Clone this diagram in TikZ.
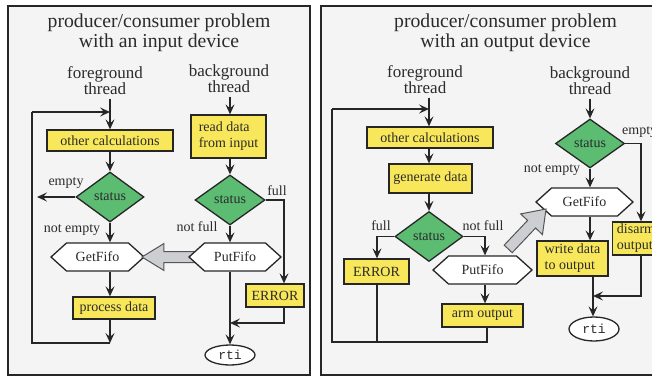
\documentclass[tikz,border=0pt]{standalone}
\usepackage{fontspec}
\setmainfont{Liberation Serif}
\setmonofont{Liberation Mono}
\usetikzlibrary{shapes.geometric,shapes.symbols,arrows.meta,calc}
\definecolor{linec}{RGB}{38,38,38}
\definecolor{txt}{RGB}{43,43,43}
\definecolor{panelbg}{RGB}{244,244,244}
\definecolor{grn}{RGB}{91,188,114}
\definecolor{yel}{RGB}{248,231,90}
\definecolor{fatfill}{RGB}{205,206,209}
\definecolor{fatline}{RGB}{85,85,85}
\begin{document}
\begin{tikzpicture}[x=1pt,y=-1pt,
 every node/.style={text=txt},
 conn/.style={draw=linec, line width=1.3pt, -{Stealth[length=10pt,width=9pt,inset=4pt]}},
 plain/.style={draw=linec, line width=1.3pt},
 ybox/.style={draw=linec, fill=yel, line width=1.3pt, inner sep=0pt, font=\fontsize{14}{16}\selectfont},
 dia/.style={diamond, draw=linec, fill=grn, line width=1.3pt, inner sep=0pt, font=\fontsize{14}{16}\selectfont},
 hexa/.style={signal, signal to=east and west, signal pointer angle=84, draw=linec, fill=white, line width=1.3pt, inner sep=0pt, font=\fontsize{14}{16}\selectfont},
 ov/.style={ellipse, draw=linec, fill=white, line width=1.3pt, inner sep=0pt, font=\ttfamily\fontsize{13}{15}\selectfont},
 fat/.style={draw=fatline, fill=fatfill, line width=1pt, line join=miter},
 panel/.style={draw=linec, fill=panelbg, line width=1.5pt},
 ttl/.style={align=center, font=\fontsize{19.7}{20}\selectfont},
 thr/.style={align=center, font=\fontsize{17}{16}\selectfont},
 lbl/.style={font=\fontsize{14}{16}\selectfont, inner sep=0pt}]
\useasboundingbox (0,0) rectangle (652,377);
\clip (0,0) rectangle (652,377);
\fill[white] (0,0) rectangle (652,377);
\path[panel] (8,6) rectangle (310,375);
\path[panel] (321,6) rectangle (680,375);

% ---------- left panel ----------
\node[ttl] (t1) at (159,33) {producer/consumer problem\\with an input device};
\node[thr] (fg1) at (105,81) {foreground\\thread};
\node[thr] (bg1) at (229,79) {background\\thread};
\node[ybox, minimum width=126pt, minimum height=21pt] (oc1) at (110,140.5) {other calculations};
\node[dia, minimum width=68pt, minimum height=50pt] (st1) at (110,197) {status};
\node[hexa, minimum width=93pt, minimum height=28pt] (gf1) at (97.5,257) {GetFifo};
\begin{scope}[shift={($(gf1.east)+(-3,0)$)}]
\filldraw[fat] (0,0) -- (22,-13.5) -- (22,-5.5) -- (55,-5.5) -- (55,5.5) -- (22,5.5) -- (22,13.5) -- cycle;
\end{scope}
\node[hexa, minimum width=92pt, minimum height=28pt] (pf1) at (235,257) {PutFifo};
\node[ybox, minimum width=82pt, minimum height=22pt] (pd1) at (114,308) {process data};
\node[ybox, minimum width=75pt, minimum height=43pt, align=left] (rd1) at (228.5,136.5) {read data\\from input};
\node[dia, minimum width=70pt, minimum height=50pt] (st2) at (230,200) {status};
\node[ybox, minimum width=58pt, minimum height=23pt] (er1) at (275,295.5) {ERROR};
\node[ov, minimum width=50pt, minimum height=20pt] (rt1) at (230,355) {rti};

\node[lbl] (le1) at (66,183) {empty};
\node[lbl] (lne1) at (72,230) {not empty};
\node[lbl] (lf1) at (277,191) {full};
\node[lbl] (lnf1) at (197,227) {not full};

\coordinate (fx1) at (110,0);
\coordinate (fx2) at (230,0);
\coordinate (fxE) at (284,0);
\coordinate (lpT) at (32,112);
\coordinate (lpB) at (32,343);
\coordinate (emL) at (37,197);
\coordinate (erY) at (0,323);

\draw[conn] (fg1.south -| fx1) -- (oc1.north -| fx1);
\draw[conn] (oc1.south -| fx1) -- (st1.north);
\draw[conn] (st1.south) -- (gf1.north -| fx1);
\draw[conn] (gf1.south -| fx1) -- (pd1.north -| fx1);
\draw[conn] (pd1.south -| fx1) -- (lpB -| fx1);
\draw[plain] (lpB -| fx1) -- (lpB) -- (lpT);
\draw[conn] (lpT) -- (lpT -| fx1);
\draw[conn] (st1.west) -- (emL);
\draw[conn] (bg1.south -| fx2) -- (rd1.north -| fx2);
\draw[conn] (rd1.south -| fx2) -- (st2.north);
\draw[conn] (st2.south) -- (pf1.north -| fx2);
\draw[conn] (pf1.south -| fx2) -- (rt1.north);
\draw[conn] (st2.east) -| (er1.north -| fxE);
\draw[conn] (er1.south -| fxE) |- (erY -| fx2);

% ---------- right panel ----------
\node[ttl] (t2) at (505.5,33) {producer/consumer problem\\with an output device};
\node[thr] (fg2) at (425,80) {foreground\\thread};
\node[thr] (bg2) at (590,81) {background\\thread};
\node[ybox, minimum width=126pt, minimum height=21pt] (oc2) at (430,137.5) {other calculations};
\node[ybox, minimum width=83pt, minimum height=29pt] (gd2) at (430.5,178.5) {generate data};
\node[dia, minimum width=68pt, minimum height=50pt] (st3) at (429,236.5) {status};
\node[ybox, minimum width=65pt, minimum height=25pt] (er2) at (376.5,271.5) {ERROR};
\node[hexa, minimum width=99pt, minimum height=28pt] (pf2) at (482.5,270) {PutFifo};
\node[ybox, minimum width=81pt, minimum height=23pt] (ao2) at (482.5,315.5) {arm output};
\node[dia, minimum width=69pt, minimum height=49pt] (st4) at (590,143.5) {status};
\node[hexa, minimum width=97pt, minimum height=28pt] (gf2) at (584.5,202) {GetFifo};
\node[ybox, minimum width=71pt, minimum height=35pt, align=left] (wd2) at (572.5,258.5) {write data\\to output};
\node[ybox, minimum width=47pt, minimum height=33pt, align=left] (ds2) at (636,238.5) {disarm\\output};
\node[ov, minimum width=50pt, minimum height=24pt] (rt2) at (594,329) {rti};

\node[lbl] (lf2) at (381,226) {full};
\node[lbl] (lnf2) at (483,226) {not full};
\node[lbl] (lne2) at (552,170) {not empty};
\node[lbl, anchor=west] (le2) at (622,132) {empty};

\begin{scope}[shift={($(gf2.west)+(11,7)$)}, rotate=46.5]
\filldraw[fat] (0,0) -- (-21,15) -- (-21,5.5) -- (-55,5.5) -- (-55,-5.5) -- (-21,-5.5) -- (-21,-15) -- cycle;
\end{scope}

\coordinate (fx3) at (429,0);
\coordinate (fx4) at (590,0);
\coordinate (fx5) at (593,0);
\coordinate (fxF) at (377,0);
\coordinate (fxNF) at (485,0);
\coordinate (fxAO) at (487,0);
\coordinate (fxD) at (641,0);
\coordinate (lpT2) at (332,109);
\coordinate (lpB2) at (332,342);
\coordinate (dsY) at (0,296);

\draw[conn] (fg2.south -| fx3) -- (oc2.north -| fx3);
\draw[conn] (oc2.south -| fx3) -- (gd2.north -| fx3);
\draw[conn] (gd2.south -| fx3) -- (st3.north);
\draw[conn] (st3.west) -| (er2.north -| fxF);
\draw[conn] (st3.east) -| (pf2.north -| fxNF);
\draw[conn] (pf2.south -| fxNF) -- (ao2.north -| fxNF);
\draw[plain] (ao2.south -| fxAO) -- (lpB2 -| fxAO) -- (lpB2) -- (lpT2);
\draw[conn] (lpT2) -- (lpT2 -| fx3);
\draw[plain] (er2.south -| fxF) -- (lpB2 -| fxF);
\draw[conn] (bg2.south -| fx4) -- (st4.north);
\draw[conn] (st4.south) -- (gf2.north -| fx4);
\draw[conn] (gf2.south -| fx4) -- (wd2.north -| fx4);
\draw[conn] (wd2.south -| fx5) -- (rt2.north -| fx5);
\draw[conn] (st4.east) -| (ds2.north -| fxD);
\draw[conn] (ds2.south -| fxD) |- (dsY -| fx5);
\end{tikzpicture}
\end{document}
